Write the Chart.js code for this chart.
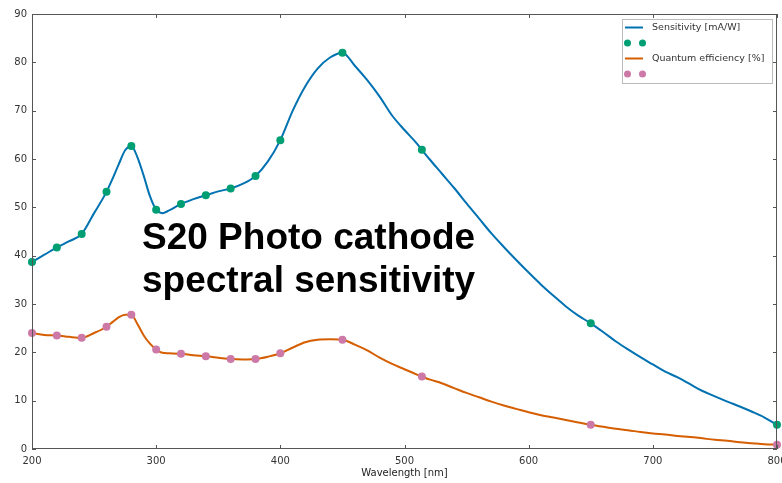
<!DOCTYPE html>
<html>
<head>
<meta charset="utf-8">
<script src="https://cdn.jsdelivr.net/npm/chart.js@4/dist/chart.umd.min.js"></script>
<style>
  html, body { margin: 0; padding: 0; background: #fff; }
  canvas { display: block; }
</style>
</head>
<body>
<canvas id="myChart" width="782" height="483"></canvas>
<script>
// wavelength grid of the two curves [nm]
const lineNm = [200, 210, 220, 230, 240, 250, 260, 265, 270, 275, 280, 285, 290, 295, 300, 305, 310,
  320, 330, 340, 350, 360, 370, 380, 390, 400, 410, 420, 430, 440, 450, 460, 470, 480, 490, 500,
  510, 514, 520, 530, 540, 550, 560, 570, 580, 590, 600, 610, 620, 630, 640, 650, 660, 670, 680,
  690, 700, 710, 720, 730, 740, 750, 760, 770, 780, 790, 800];

// sensitivity [mA/W]
const sensitivity = [38.7, 40.2, 41.7, 43.0, 44.5, 48.8, 53.2, 56.0, 59.0, 61.8, 62.7, 60.3, 56.5, 52.3, 49.5, 48.8, 49.3,
  50.7, 51.7, 52.5, 53.3, 53.9, 54.9, 56.5, 59.5, 63.9, 70.0, 75.0, 78.7, 81.0, 82.0, 79.3, 76.3, 72.9, 69.0, 66.0,
  63.2, 61.9, 60.0, 57.0, 54.0, 50.8, 47.7, 44.6, 41.8, 39.1, 36.5, 34.0, 31.7, 29.5, 27.6, 26.0, 24.2, 22.3, 20.6,
  19.0, 17.5, 16.0, 14.8, 13.4, 12.0, 10.9, 9.8, 8.8, 7.7, 6.5, 5.0];

// quantum efficiency [%]
const quantumEff = [24.0, 23.6, 23.5, 23.2, 23.0, 24.0, 25.3, 26.3, 27.3, 27.8, 27.8, 25.8, 23.5, 21.8, 20.6, 19.9, 19.8,
  19.7, 19.4, 19.2, 18.9, 18.6, 18.5, 18.6, 19.1, 19.8, 21.0, 22.1, 22.6, 22.7, 22.6, 21.6, 20.4, 18.9, 17.6, 16.5,
  15.4, 15.0, 14.4, 13.6, 12.6, 11.6, 10.7, 9.8, 9.0, 8.3, 7.6, 7.0, 6.5, 6.0, 5.5, 5.0, 4.6, 4.2, 3.9,
  3.5, 3.2, 3.0, 2.7, 2.5, 2.2, 1.9, 1.7, 1.4, 1.2, 1.0, 0.9];

// measured points
const pointNm = [200, 220, 240, 260, 280, 300, 320, 340, 360, 380, 400, 450, 514, 650, 800];
const sensPoints = [38.7, 41.7, 44.5, 53.2, 62.7, 49.5, 50.7, 52.5, 53.9, 56.5, 63.9, 82.0, 61.9, 26.0, 5.0];
const qePoints = [24.0, 23.5, 23.0, 25.3, 27.8, 20.6, 19.7, 19.2, 18.6, 18.6, 19.8, 22.6, 15.0, 5.0, 0.9];

const xTicks = [200, 300, 400, 500, 600, 700, 800];
const yTicks = [0, 10, 20, 30, 40, 50, 60, 70, 80, 90];

const BLUE = '#0072B2', GREEN = '#009E73', ORANGE = '#D55E00', PINK = '#CC79A7';
const FONT = 'DejaVu Sans';

const xy = (xs, ys) => xs.map((x, i) => ({ x: x, y: ys[i] }));

// box, inward ticks, legend and the big caption
const decorations = {
  id: 'decorations',
  afterDatasetsDraw(chart) {
    const { ctx, chartArea: a, scales } = chart;
    ctx.save();
    ctx.strokeStyle = '#555';
    ctx.lineWidth = 1;
    ctx.strokeRect(a.left + 0.5, a.top + 0.5, a.right - a.left - 1, a.bottom - a.top - 1);
    ctx.beginPath();
    xTicks.forEach(v => {
      const px = Math.round(scales.x.getPixelForValue(v)) + 0.5;
      ctx.moveTo(px, a.bottom); ctx.lineTo(px, a.bottom - 4);
      ctx.moveTo(px, a.top); ctx.lineTo(px, a.top + 4);
    });
    yTicks.forEach(v => {
      const py = Math.round(scales.y.getPixelForValue(v)) + 0.5;
      ctx.moveTo(a.left, py); ctx.lineTo(a.left + 4, py);
      ctx.moveTo(a.right, py); ctx.lineTo(a.right - 4, py);
    });
    ctx.stroke();

    // legend
    const lx = 622, ly = 19, lw = 150, lh = 64;
    ctx.fillStyle = '#fff';
    ctx.fillRect(lx, ly, lw, lh);
    ctx.strokeStyle = '#bbb';
    ctx.strokeRect(lx + 0.5, ly + 0.5, lw, lh);
    const rows = [
      { kind: 'line', color: BLUE, text: 'Sensitivity [mA/W]' },
      { kind: 'dots', color: GREEN },
      { kind: 'line', color: ORANGE, text: 'Quantum efficiency [%]' },
      { kind: 'dots', color: PINK }
    ];
    ctx.font = '9.5px "' + FONT + '"';
    ctx.textBaseline = 'middle';
    rows.forEach((r, i) => {
      const y = ly + 8.5 + i * 15.5;
      if (r.kind === 'line') {
        ctx.strokeStyle = r.color;
        ctx.lineWidth = 2;
        ctx.beginPath();
        ctx.moveTo(625, y); ctx.lineTo(643, y);
        ctx.stroke();
      } else {
        ctx.fillStyle = r.color;
        [627.5, 642.5].forEach(cx => {
          ctx.beginPath();
          ctx.arc(cx, y, 3.5, 0, Math.PI * 2);
          ctx.fill();
        });
      }
      if (r.text) {
        ctx.fillStyle = '#333';
        ctx.fillText(r.text, 652, y);
      }
    });

    // caption
    ctx.fillStyle = '#000';
    ctx.font = 'bold 37px "Liberation Sans", Arial, sans-serif';
    ctx.textBaseline = 'alphabetic';
    ctx.fillText('S20 Photo cathode', 142, 249);
    ctx.fillText('spectral sensitivity', 142, 292);
    ctx.restore();
  }
};

const lineStyle = {
  showLine: true,
  pointRadius: 0,
  borderWidth: 2,
  cubicInterpolationMode: 'monotone',
  fill: false
};
const dotStyle = {
  showLine: false,
  pointRadius: 4,
  pointBorderWidth: 0
};

new Chart(document.getElementById('myChart').getContext('2d'), {
  type: 'scatter',
  data: {
    datasets: [
      Object.assign({ label: 'Sensitivity [mA/W]', data: xy(lineNm, sensitivity), borderColor: BLUE, order: 4 }, lineStyle),
      Object.assign({ label: 'Sensitivity points', data: xy(pointNm, sensPoints), backgroundColor: GREEN, order: 3 }, dotStyle),
      Object.assign({ label: 'Quantum efficiency [%]', data: xy(lineNm, quantumEff), borderColor: ORANGE, order: 2 }, lineStyle),
      Object.assign({ label: 'QE points', data: xy(pointNm, qePoints), backgroundColor: PINK, order: 1 }, dotStyle)
    ]
  },
  options: {
    responsive: false,
    animation: false,
    clip: false,
    layout: { padding: { top: 14, right: 5, left: 0, bottom: 0 } },
    plugins: { legend: { display: false }, tooltip: { enabled: false } },
    scales: {
      x: {
        type: 'linear',
        min: 200, max: 800,
        grid: { display: false, drawTicks: false },
        border: { display: false },
        afterBuildTicks: s => { s.ticks = xTicks.map(v => ({ value: v })); },
        ticks: { color: '#333', font: { family: FONT, size: 10 }, padding: 6, maxRotation: 0, autoSkip: false },
        title: { display: true, text: 'Wavelength [nm]', color: '#222', font: { family: FONT, size: 10 }, padding: { top: 0, bottom: 4 } },
        afterFit: s => { s.height = 34; s.paddingLeft = 0; s.paddingRight = 0; }
      },
      y: {
        min: 0, max: 90,
        grid: { display: false, drawTicks: false },
        border: { display: false },
        afterBuildTicks: s => { s.ticks = yTicks.map(v => ({ value: v })); },
        ticks: { color: '#333', font: { family: FONT, size: 10 }, padding: 5, autoSkip: false },
        afterFit: s => { s.width = 32; }
      }
    }
  },
  plugins: [decorations]
});
</script>
</body>
</html>
